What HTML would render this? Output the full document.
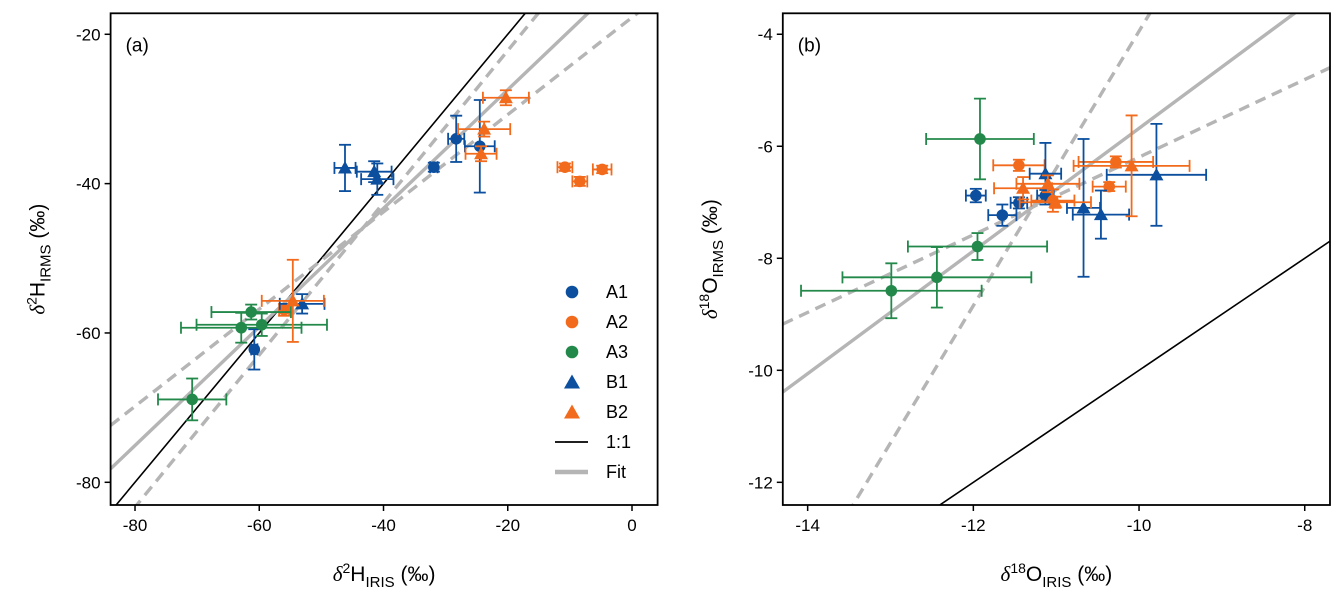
<!DOCTYPE html>
<html><head><meta charset="utf-8">
<style>
html,body{margin:0;padding:0;background:#fff;}
svg{display:block;font-family:"Liberation Sans",Arial,sans-serif;}
</style></head>
<body>
<svg id="chart" width="1343" height="603" viewBox="0 0 1343 603" xmlns="http://www.w3.org/2000/svg">
<g id="panelA"></g>
<g id="panelB"></g>
</svg>
<script>
// ---------- data: panel (a) delta 2H ----------
const aGroup = ["A1","A1","A1","A1","A2","A2","A2","A2","A3","A3","A3","A3","B1","B1","B1","B1","B2","B2","B2","B2"];
const aX    = [-28.3,-24.5,-31.9,-60.8,-10.8,-8.4,-4.8,-56.0,-61.3,-62.9,-59.6,-70.8,-46.2,-41.5,-41.0,-53.1,-20.3,-23.8,-24.3,-54.6];
const aY    = [-34.0,-35.0,-37.8,-62.2,-37.8,-39.7,-38.1,-56.9,-57.2,-59.3,-58.9,-68.9,-37.9,-38.4,-39.4,-56.1,-28.5,-32.7,-36.0,-55.7];
const aXerr = [1.3,2.4,0.6,0.5,1.2,1.2,1.5,0.8,6.4,9.7,10.5,5.5,1.7,2.8,2.6,3.6,3.7,4.2,2.5,5.0];
const aYerr = [3.1,6.2,0.6,2.7,0.5,0.6,0.5,0.8,1.0,2.0,1.5,2.8,3.1,1.4,2.1,1.3,1.0,1.0,1.0,5.5];
const aFit  = [0.794,-11.55];          // slope, intercept
const aBand = [-43.3,0.651,1.019];     // pivot x, low slope, high slope
const aXTicks = [-80,-60,-40,-20,0];
const aYTicks = [-80,-60,-40,-20];
// ---------- data: panel (b) delta 18O ----------
const bGroup = ["A1","A1","A1","A1","A2","A2","A2","A2","A3","A3","A3","A3","B1","B1","B1","B1","B2","B2","B2","B2"];
const bX    = [-11.97,-11.65,-11.45,-11.13,-11.45,-10.28,-10.36,-11.04,-11.92,-11.95,-12.44,-12.99,-11.13,-10.67,-10.46,-9.79,-10.09,-11.10,-11.40,-11.01];
const bY    = [-6.88,-7.23,-7.01,-6.88,-6.34,-6.28,-6.72,-6.97,-5.87,-7.79,-8.34,-8.58,-6.49,-7.10,-7.22,-6.51,-6.35,-6.67,-6.75,-7.00];
const bXerr = [0.12,0.17,0.10,0.10,0.31,0.45,0.20,0.26,0.65,0.84,1.14,1.09,0.19,0.20,0.34,0.60,0.70,0.38,0.35,0.43];
const bYerr = [0.12,0.19,0.10,0.10,0.10,0.10,0.08,0.20,0.72,0.24,0.54,0.49,0.55,1.23,0.43,0.91,0.90,0.15,0.20,0.10];
const bFit  = [1.095,5.27];
const bBand = [-11.28,0.693,2.45];
const bXTicks = [-14,-12,-10,-8];
const bYTicks = [-12,-10,-8,-6,-4];
// legend
const legendLabels = ["A1","A2","A3","B1","B2","1:1","Fit"];

const COL = {A1:"#0b4f9e",A2:"#f26b1d",A3:"#22894a",B1:"#0b4f9e",B2:"#f26b1d"};
const NS = "http://www.w3.org/2000/svg";
function mk(parent, tag, attrs){
  const e = document.createElementNS(NS, tag);
  for (const k in attrs) e.setAttribute(k, attrs[k]);
  parent.appendChild(e); return e;
}

function drawPanel(g, cfg){
  const L=cfg.box[0], T=cfg.box[1], R=cfg.box[2], B=cfg.box[3];
  const sx = v => L + (v-cfg.xd[0])/(cfg.xd[1]-cfg.xd[0])*(R-L);
  const sy = v => B - (v-cfg.yd[0])/(cfg.yd[1]-cfg.yd[0])*(B-T);
  const clipId = cfg.id+"clip";
  const defs = mk(g,"defs",{});
  const cp = mk(defs,"clipPath",{id:clipId});
  mk(cp,"rect",{x:L,y:T,width:R-L,height:B-T});
  const plot = mk(g,"g",{"clip-path":"url(#"+clipId+")"});
  
  
  const x0=cfg.xd[0], x1=cfg.xd[1];
  const one = mk(plot,"line",{x1:sx(x0),y1:sy(x0),x2:sx(x1),y2:sy(x1),stroke:"#000","stroke-width":1.6});
  
  
  const fy = x => cfg.fit[0]*x + cfg.fit[1];
  const px = cfg.band[0], py = fy(px);
  [cfg.band[1], cfg.band[2]].forEach((s,i)=>{
    const l = mk(plot,"line",{x1:sx(x0),y1:sy(py+s*(x0-px)),x2:sx(x1),y2:sy(py+s*(x1-px)),stroke:"#b5b5b5","stroke-width":3.4,"stroke-dasharray":"11,7"});
    
    
  });
  const fl = mk(plot,"line",{x1:sx(x0),y1:sy(fy(x0)),x2:sx(x1),y2:sy(fy(x1)),stroke:"#b5b5b5","stroke-width":3.4});
  
  
  for (let i=0;i<cfg.x.length;i++){
    const c = COL[cfg.g[i]];
    const cx = sx(cfg.x[i]), cy = sy(cfg.y[i]);
    const xa = sx(cfg.x[i]-cfg.xe[i]), xb = sx(cfg.x[i]+cfg.xe[i]);
    const ya = sy(cfg.y[i]-cfg.ye[i]), yb = sy(cfg.y[i]+cfg.ye[i]);
    const pg = mk(plot,"g",{stroke:c,"stroke-width":1.8,fill:c});
    
    
    mk(pg,"line",{x1:xa,y1:cy,x2:xb,y2:cy});
    mk(pg,"line",{x1:xa,y1:cy-6,x2:xa,y2:cy+6});
    mk(pg,"line",{x1:xb,y1:cy-6,x2:xb,y2:cy+6});
    mk(pg,"line",{x1:cx,y1:ya,x2:cx,y2:yb});
    mk(pg,"line",{x1:cx-6,y1:ya,x2:cx+6,y2:ya});
    mk(pg,"line",{x1:cx-6,y1:yb,x2:cx+6,y2:yb});
    if (cfg.g[i][0]==="A") mk(pg,"circle",{cx:cx,cy:cy,r:5.8,stroke:"none"});
    else mk(pg,"path",{d:`M${cx-7},${cy+5.5} L${cx+7},${cy+5.5} L${cx},${cy-7} Z`,stroke:"none"});
  }
  const fr = mk(g,"rect",{x:L,y:T,width:R-L,height:B-T,fill:"none",stroke:"#000","stroke-width":1.8});
  
  
  cfg.xt.forEach(t=>{
    const X=sx(t);
    const tk = mk(g,"line",{x1:X,y1:B,x2:X,y2:B+6,stroke:"#000","stroke-width":1.5});
    
    
    const tx = mk(g,"text",{x:X,y:B+26,"text-anchor":"middle","font-size":17,fill:"#000"});
    tx.textContent = String(t);
    
    
  });
  cfg.yt.forEach(t=>{
    const Y=sy(t);
    const tk = mk(g,"line",{x1:L-6,y1:Y,x2:L,y2:Y,stroke:"#000","stroke-width":1.5});
    
    
    const tx = mk(g,"text",{x:L-10,y:Y+6,"text-anchor":"end","font-size":17,fill:"#000"});
    tx.textContent = String(t);
    
    
  });
  const pl = mk(g,"text",{x:L+15,y:T+38,"font-size":19,fill:"#000"});
  pl.textContent = cfg.label;
  
  
  const xt = mk(g,"text",{x:(L+R)/2,y:581,"text-anchor":"middle","font-size":21,fill:"#000"});
  xt.innerHTML = `<tspan font-style="italic" font-family="Liberation Serif,serif">δ</tspan><tspan dy="-8" font-size="14">${cfg.iso}</tspan><tspan dy="8">${cfg.el}</tspan><tspan dy="6" font-size="15">IRIS</tspan><tspan dy="-6"> (‰)</tspan>`;
  
  
  const yt = mk(g,"text",{x:0,y:0,"text-anchor":"middle","font-size":21,fill:"#000",transform:`translate(${L-66},${(T+B)/2}) rotate(-90)`});
  yt.innerHTML = `<tspan font-style="italic" font-family="Liberation Serif,serif">δ</tspan><tspan dy="-8" font-size="14">${cfg.iso}</tspan><tspan dy="8">${cfg.el}</tspan><tspan dy="6" font-size="15">IRMS</tspan><tspan dy="-6"> (‰)</tspan>`;
  
  
}

drawPanel(document.getElementById("panelA"),{
  id:"a", box:[110.6,13.3,657.6,505], xd:[-83.93,4.12], yd:[-83.04,-17.19],
  x:aX,y:aY,xe:aXerr,ye:aYerr,g:aGroup,fit:aFit,band:aBand,xt:aXTicks,yt:aYTicks,
  label:"(a)", iso:"2", el:"H"
});
drawPanel(document.getElementById("panelB"),{
  id:"b", box:[782.8,13.3,1330,505], xd:[-14.30,-7.695], yd:[-12.405,-3.626],
  x:bX,y:bY,xe:bXerr,ye:bYerr,g:bGroup,fit:bFit,band:bBand,xt:bXTicks,yt:bYTicks,
  label:"(b)", iso:"18", el:"O"
});

const lg = mk(document.getElementById("panelA"),"g",{});


legendLabels.forEach((lab,i)=>{
  const y = 292 + i*30;
  const e = mk(lg,"g",{});
  
  
  if (lab[0]==="A") mk(e,"circle",{cx:572,cy:y,r:6.3,fill:COL[lab]});
  else if (lab[0]==="B") mk(e,"path",{d:`M${572-8},${y+6.5} L${572+8},${y+6.5} L572,${y-7.5} Z`,fill:COL[lab]});
  else if (lab==="1:1") mk(e,"line",{x1:555,y1:y,x2:588,y2:y,stroke:"#000","stroke-width":1.8});
  else mk(e,"line",{x1:555,y1:y,x2:588,y2:y,stroke:"#b5b5b5","stroke-width":4.5});
  const t = mk(e,"text",{x:606,y:y+6,"font-size":18,fill:"#000"});
  t.textContent = lab;
});
</script>
</body></html>
